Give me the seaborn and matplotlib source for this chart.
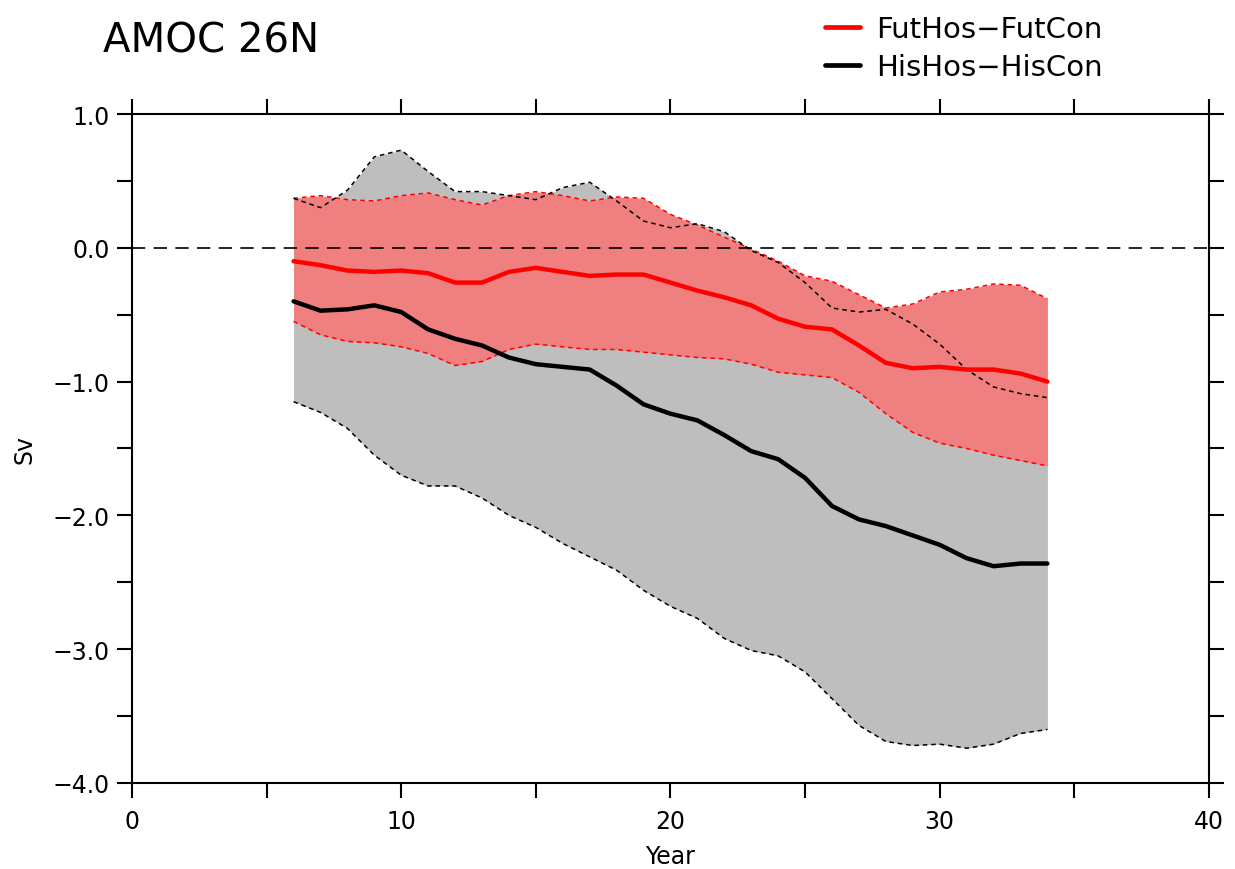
import numpy as np
import pandas as pd
import matplotlib
matplotlib.use("Agg")
import matplotlib.pyplot as plt
from matplotlib.lines import Line2D
import seaborn as sns

# Years of the hosing experiment anomalies
years = list(range(6, 35))

# FutHos-FutCon: ensemble mean and spread (Sv)
fut_mean = [-0.10, -0.13, -0.17, -0.18, -0.17, -0.19, -0.26, -0.26, -0.18, -0.15,
            -0.18, -0.21, -0.20, -0.20, -0.26, -0.32, -0.37, -0.43, -0.53, -0.59,
            -0.61, -0.73, -0.86, -0.90, -0.89, -0.91, -0.91, -0.94, -1.00]
fut_upper = [0.37, 0.39, 0.36, 0.35, 0.39, 0.41, 0.36, 0.32, 0.39, 0.42,
             0.39, 0.35, 0.38, 0.37, 0.25, 0.17, 0.08, -0.01, -0.10, -0.21,
             -0.25, -0.35, -0.45, -0.42, -0.33, -0.31, -0.27, -0.28, -0.38]
fut_lower = [-0.55, -0.65, -0.70, -0.71, -0.74, -0.79, -0.88, -0.85, -0.76, -0.72,
             -0.74, -0.76, -0.76, -0.78, -0.80, -0.82, -0.83, -0.87, -0.93, -0.95,
             -0.97, -1.08, -1.24, -1.38, -1.46, -1.50, -1.55, -1.59, -1.63]

# HisHos-HisCon: ensemble mean and spread (Sv)
his_mean = [-0.40, -0.47, -0.46, -0.43, -0.48, -0.61, -0.68, -0.73, -0.82, -0.87,
            -0.89, -0.91, -1.03, -1.17, -1.24, -1.29, -1.40, -1.52, -1.58, -1.72,
            -1.93, -2.03, -2.08, -2.15, -2.22, -2.32, -2.38, -2.36, -2.36]
his_upper = [0.37, 0.30, 0.43, 0.68, 0.73, 0.57, 0.42, 0.42, 0.39, 0.36,
             0.45, 0.49, 0.35, 0.20, 0.15, 0.18, 0.12, -0.02, -0.11, -0.26,
             -0.45, -0.48, -0.46, -0.57, -0.72, -0.91, -1.04, -1.09, -1.12]
his_lower = [-1.15, -1.23, -1.35, -1.55, -1.70, -1.78, -1.78, -1.87, -2.00, -2.09,
             -2.21, -2.31, -2.41, -2.56, -2.68, -2.77, -2.92, -3.01, -3.05, -3.17,
             -3.37, -3.57, -3.69, -3.72, -3.71, -3.74, -3.71, -3.63, -3.60]

x_ticks = [0, 10, 20, 30, 40]
y_ticks = [1.0, 0.0, -1.0, -2.0, -3.0, -4.0]

series_names = ["FutHos\u2212FutCon", "HisHos\u2212HisCon"]

df = pd.DataFrame({
    "Year": years * 2,
    "Sv": fut_mean + his_mean,
    "run": [series_names[0]] * len(years) + [series_names[1]] * len(years),
})

sns.set_theme(style="ticks")
plt.rcParams["font.family"] = ["DejaVu Sans"]
plt.rcParams["axes.linewidth"] = 1.5
plt.rcParams["text.color"] = "black"
plt.rcParams["axes.labelcolor"] = "black"

fig = plt.figure(figsize=(12.35, 8.7), dpi=100)
ax = fig.add_axes([0.1069, 0.0989, 0.872, 0.7689])

# spread envelopes
ax.fill_between(years, his_lower, his_upper, color="#bebebe", lw=0, zorder=1)
ax.fill_between(years, fut_lower, fut_upper, color="#f08080", lw=0, zorder=2)

band_ls = (0, (3, 2.5))
ax.plot(years, fut_upper, color="red", lw=1.1, ls=band_ls, zorder=3)
ax.plot(years, fut_lower, color="red", lw=1.1, ls=band_ls, zorder=3)
ax.plot(years, his_upper, color="black", lw=1.1, ls=band_ls, zorder=3)
ax.plot(years, his_lower, color="black", lw=1.1, ls=band_ls, zorder=3)

ax.axhline(0, color="black", lw=1.2, ls=(0, (8, 5)), zorder=3)

sns.lineplot(data=df, x="Year", y="Sv", hue="run",
             palette={series_names[0]: "red", series_names[1]: "black"},
             linewidth=3.2, ax=ax, zorder=4, legend=False)

ax.set_xlim(0, 40)
ax.set_ylim(-4.0, 1.0)
ax.set_xticks(x_ticks)
ax.set_xticks([5, 15, 25, 35], minor=True)
ax.set_yticks(y_ticks)
ax.set_yticks(np.arange(-3.5, 1.0, 1.0), minor=True)
ax.set_yticklabels([f"{v:.1f}".replace("-", "\u2212") for v in y_ticks])
ax.tick_params(which="both", direction="out", length=11, width=1.5,
               top=True, right=True, labelsize=17, colors="black")
ax.tick_params(axis="x", pad=8)
ax.tick_params(axis="y", pad=5)
for s in ax.spines.values():
    s.set_visible(True)
    s.set_color("black")

ax.set_xlabel("Year", fontsize=17, labelpad=8, color="black")
ax.set_ylabel("Sv", fontsize=17, labelpad=12, color="black")
ax.grid(False)

fig.text(0.083, 0.94, "AMOC 26N", fontsize=29, ha="left", va="baseline",
         color="black")

handles = [Line2D([], [], color="red", lw=3.4), Line2D([], [], color="black", lw=3.4)]
leg = fig.legend(handles, series_names, loc="upper left", bbox_to_anchor=(0.647, 1.012),
                 frameon=False, fontsize=21, handlelength=1.2, handletextpad=0.55,
                 labelspacing=0.35)
for t in leg.get_texts():
    t.set_color("black")

fig.savefig("out.png", dpi=100, facecolor="white")
